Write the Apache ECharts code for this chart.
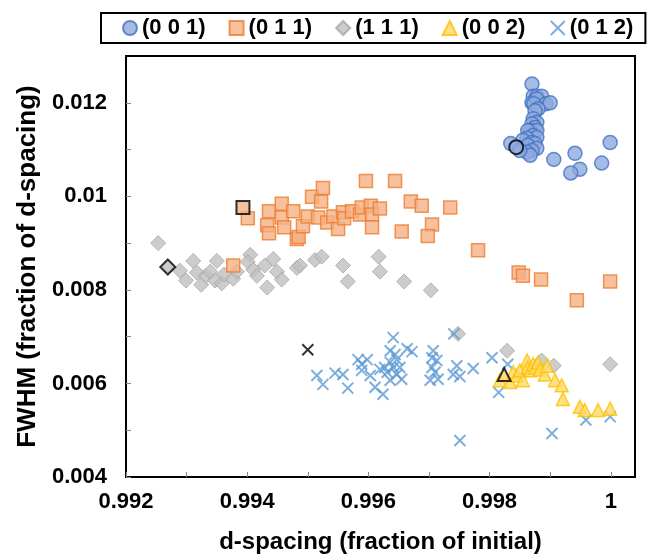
<!DOCTYPE html>
<html>
<head>
<meta charset="utf-8">
<script src="https://cdn.jsdelivr.net/npm/echarts@6/dist/echarts.min.js"></script>
<style>
  html, body { margin: 0; padding: 0; background: #fff; }
  #chart { width: 647px; height: 559px; }
</style>
</head>
<body>
<div id="chart"></div>
<script>
const seriesNames = ['(0 0 1)', '(0 1 1)', '(1 1 1)', '(0 0 2)', '(0 1 2)'];

// initial measurement of each reflection (drawn with a black outline)
const initial001 = [0.99844, 0.01105];
const initial011 = [0.99393, 0.00976];
const initial111 = [0.99269, 0.00849];
const initial002 = [0.99824, 0.00619];
const initial012 = [0.99500, 0.00672];

const data001 = [
  [0.99870, 0.01240], [0.99872, 0.01214], [0.99878, 0.01214], [0.99886, 0.01214],
  [0.99870, 0.01200], [0.99878, 0.01208], [0.99893, 0.01198], [0.99900, 0.01200],
  [0.99873, 0.01198], [0.99880, 0.01187], [0.99875, 0.01183], [0.99872, 0.01166],
  [0.99878, 0.01158], [0.99870, 0.01155], [0.99875, 0.01147], [0.99867, 0.01141],
  [0.99878, 0.01141], [0.99863, 0.01141], [0.99872, 0.01130], [0.99878, 0.01126],
  [0.99862, 0.01124], [0.99855, 0.01120], [0.99870, 0.01115], [0.99875, 0.01113],
  [0.99863, 0.01109], [0.99878, 0.01103], [0.99870, 0.01098], [0.99862, 0.01094],
  [0.99867, 0.01088], [0.99835, 0.01113], [0.99850, 0.01098], [0.99906, 0.01079],
  [0.99941, 0.01092], [0.99949, 0.01058], [0.99934, 0.01050], [0.99985, 0.01071],
  [0.99999, 0.01115]
];

const data011 = [
  [0.99401, 0.00953], [0.99436, 0.00968], [0.99433, 0.00938], [0.99436, 0.00921],
  [0.99457, 0.00984], [0.99457, 0.00955], [0.99461, 0.00934], [0.99476, 0.00968],
  [0.99482, 0.00909], [0.99485, 0.00913], [0.99492, 0.00936], [0.99500, 0.00957],
  [0.99507, 0.00999], [0.99522, 0.00989], [0.99525, 0.01018], [0.99517, 0.00955],
  [0.99532, 0.00944], [0.99542, 0.00957], [0.99550, 0.00930], [0.99558, 0.00966],
  [0.99560, 0.00953], [0.99573, 0.00968], [0.99586, 0.00961], [0.99589, 0.00976],
  [0.99596, 0.01033], [0.99604, 0.00980], [0.99606, 0.00961], [0.99606, 0.00934],
  [0.99619, 0.00974], [0.99644, 0.01033], [0.99670, 0.00989], [0.99688, 0.00980],
  [0.99655, 0.00925], [0.99705, 0.00940], [0.99698, 0.00915], [0.99735, 0.00976],
  [0.99781, 0.00885], [0.99848, 0.00837], [0.99855, 0.00830], [0.99885, 0.00822],
  [0.99944, 0.00778], [0.99999, 0.00818], [0.99377, 0.00852]
];

const data111 = [
  [0.99253, 0.00900], [0.99289, 0.00841], [0.99299, 0.00820], [0.99311, 0.00862],
  [0.99317, 0.00837], [0.99324, 0.00811], [0.99332, 0.00830], [0.99339, 0.00839],
  [0.99350, 0.00862], [0.99347, 0.00820], [0.99358, 0.00814], [0.99362, 0.00833],
  [0.99377, 0.00824], [0.99383, 0.00839], [0.99405, 0.00875], [0.99401, 0.00860],
  [0.99410, 0.00843], [0.99416, 0.00830], [0.99429, 0.00852], [0.99443, 0.00866],
  [0.99449, 0.00839], [0.99457, 0.00822], [0.99433, 0.00805], [0.99482, 0.00847],
  [0.99487, 0.00852], [0.99512, 0.00864], [0.99523, 0.00871], [0.99558, 0.00852],
  [0.99566, 0.00818], [0.99617, 0.00871], [0.99619, 0.00839], [0.99659, 0.00818],
  [0.99703, 0.00799], [0.99748, 0.00706], [0.99829, 0.00670], [0.99886, 0.00649],
  [0.99906, 0.00638], [0.99999, 0.00641]
];

const data002 = [
  [0.99817, 0.00607], [0.99834, 0.00603], [0.99839, 0.00624], [0.99845, 0.00617],
  [0.99850, 0.00628], [0.99855, 0.00607], [0.99862, 0.00649], [0.99863, 0.00634],
  [0.99867, 0.00628], [0.99872, 0.00641], [0.99875, 0.00634], [0.99880, 0.00645],
  [0.99883, 0.00630], [0.99891, 0.00619], [0.99895, 0.00638], [0.99908, 0.00607],
  [0.99919, 0.00596], [0.99921, 0.00567], [0.99949, 0.00550], [0.99957, 0.00543],
  [0.99979, 0.00543], [0.99999, 0.00546]
];

const data012 = [
  [0.99641, 0.00698], [0.99636, 0.00670], [0.99644, 0.00662], [0.99664, 0.00674],
  [0.99672, 0.00668], [0.99583, 0.00651], [0.99598, 0.00651], [0.99589, 0.00641],
  [0.99515, 0.00617], [0.99525, 0.00598], [0.99545, 0.00622], [0.99558, 0.00619],
  [0.99566, 0.00590], [0.99589, 0.00628], [0.99603, 0.00617], [0.99611, 0.00592],
  [0.99624, 0.00577], [0.99619, 0.00630], [0.99627, 0.00634], [0.99631, 0.00624],
  [0.99636, 0.00645], [0.99641, 0.00634], [0.99647, 0.00619], [0.99652, 0.00634],
  [0.99655, 0.00609], [0.99636, 0.00607], [0.99647, 0.00651], [0.99707, 0.00670],
  [0.99705, 0.00655], [0.99713, 0.00649], [0.99705, 0.00634], [0.99710, 0.00624],
  [0.99702, 0.00607], [0.99715, 0.00609], [0.99740, 0.00619], [0.99746, 0.00638],
  [0.99751, 0.00615], [0.99773, 0.00632], [0.99741, 0.00706], [0.99804, 0.00655],
  [0.99830, 0.00641], [0.99815, 0.00581], [0.99751, 0.00478], [0.99903, 0.00493],
  [0.99959, 0.00522], [0.99999, 0.00529]
];

const xMin = 0.992, xMax = 1.0004, xStep = 0.001;
const yMin = 0.004, yMax = 0.013, yStep = 0.001;

const chart = echarts.init(document.getElementById('chart'));
const font = 'Liberation Sans, Arial, sans-serif';
const crossPath = 'path://M0,0L10,10M10,0L0,10';

// only every second tick carries a label, like the original
const evenLabel = (v) => {
  const k = v * 1000;
  if (Math.abs(k - Math.round(k)) > 1e-6) return '';
  if (Math.round(k) % 2 !== 0) return '';
  return String(parseFloat(v.toFixed(3)));
};

const withInitial = (pts, first) =>
  pts.map(p => ({ value: p })).concat([{
    value: first,
    itemStyle: { borderColor: '#000', borderWidth: 2 }
  }]);

const option = {
  animation: false,
  textStyle: { fontFamily: font },
  legend: {
    data: seriesNames,
    left: 101,
    top: 13,
    padding: [4, 12, 4, 21],
    itemGap: 23,
    itemWidth: 14,
    itemHeight: 14,
    itemTextGap: 5,
    borderColor: '#000',
    borderWidth: 2,
    textStyle: { fontSize: 22, fontWeight: 'bold', color: '#000', fontFamily: font }
  },
  grid: {
    left: 126, right: 12, top: 56, bottom: 78,
    show: true, borderColor: '#000', borderWidth: 2, backgroundColor: 'transparent'
  },
  xAxis: {
    type: 'value',
    min: xMin, max: xMax, interval: xStep,
    name: 'd-spacing (fraction of initial)',
    nameLocation: 'middle',
    nameGap: 53,
    nameTextStyle: { fontSize: 24, fontWeight: 'bold', color: '#000' },
    axisLine: { show: true, onZero: false, lineStyle: { color: '#000', width: 2 } },
    axisTick: { show: true, inside: true, length: 5, lineStyle: { color: '#888' } },
    axisLabel: {
      margin: 14, fontSize: 22, fontWeight: 'bold', color: '#000',
      showMaxLabel: false, formatter: evenLabel
    },
    splitLine: { show: false }
  },
  yAxis: {
    type: 'value',
    min: yMin, max: yMax, interval: yStep,
    name: 'FWHM (fraction of d-spacing)',
    nameLocation: 'middle',
    nameGap: 84,
    nameTextStyle: { fontSize: 26, fontWeight: 'bold', color: '#000' },
    axisLine: { show: true, onZero: false, lineStyle: { color: '#000', width: 2 } },
    axisTick: { show: true, inside: true, length: 5, lineStyle: { color: '#888' } },
    axisLabel: {
      margin: 19, fontSize: 22, fontWeight: 'bold', color: '#000',
      showMaxLabel: false, formatter: evenLabel
    },
    splitLine: { show: false }
  },
  series: [
    {
      name: seriesNames[2], type: 'scatter', symbol: 'diamond', symbolSize: 15,
      itemStyle: { color: '#BFBFBF', borderColor: '#A6A6A6', borderWidth: 1 },
      data: withInitial(data111, initial111)
    },
    {
      name: seriesNames[1], type: 'scatter', symbol: 'rect', symbolSize: 13,
      itemStyle: { color: '#F4B183', borderColor: '#ED7D31', borderWidth: 1.5 },
      data: withInitial(data011, initial011)
    },
    {
      name: seriesNames[0], type: 'scatter', symbol: 'circle', symbolSize: 14,
      itemStyle: { color: '#8FAADC', borderColor: '#4472C4', borderWidth: 1.5 },
      data: withInitial(data001, initial001)
    },
    {
      name: seriesNames[4], type: 'scatter', symbol: crossPath, symbolSize: 11,
      itemStyle: { color: 'none', borderColor: '#5B9BD5', borderWidth: 2 },
      data: withInitial(data012, initial012)
    },
    {
      name: seriesNames[3], type: 'scatter', symbol: 'triangle', symbolSize: 13,
      itemStyle: { color: '#FFD966', borderColor: '#FFC000', borderWidth: 1.5 },
      data: withInitial(data002, initial002)
    }
  ]
};

chart.setOption(option);
</script>
</body>
</html>
